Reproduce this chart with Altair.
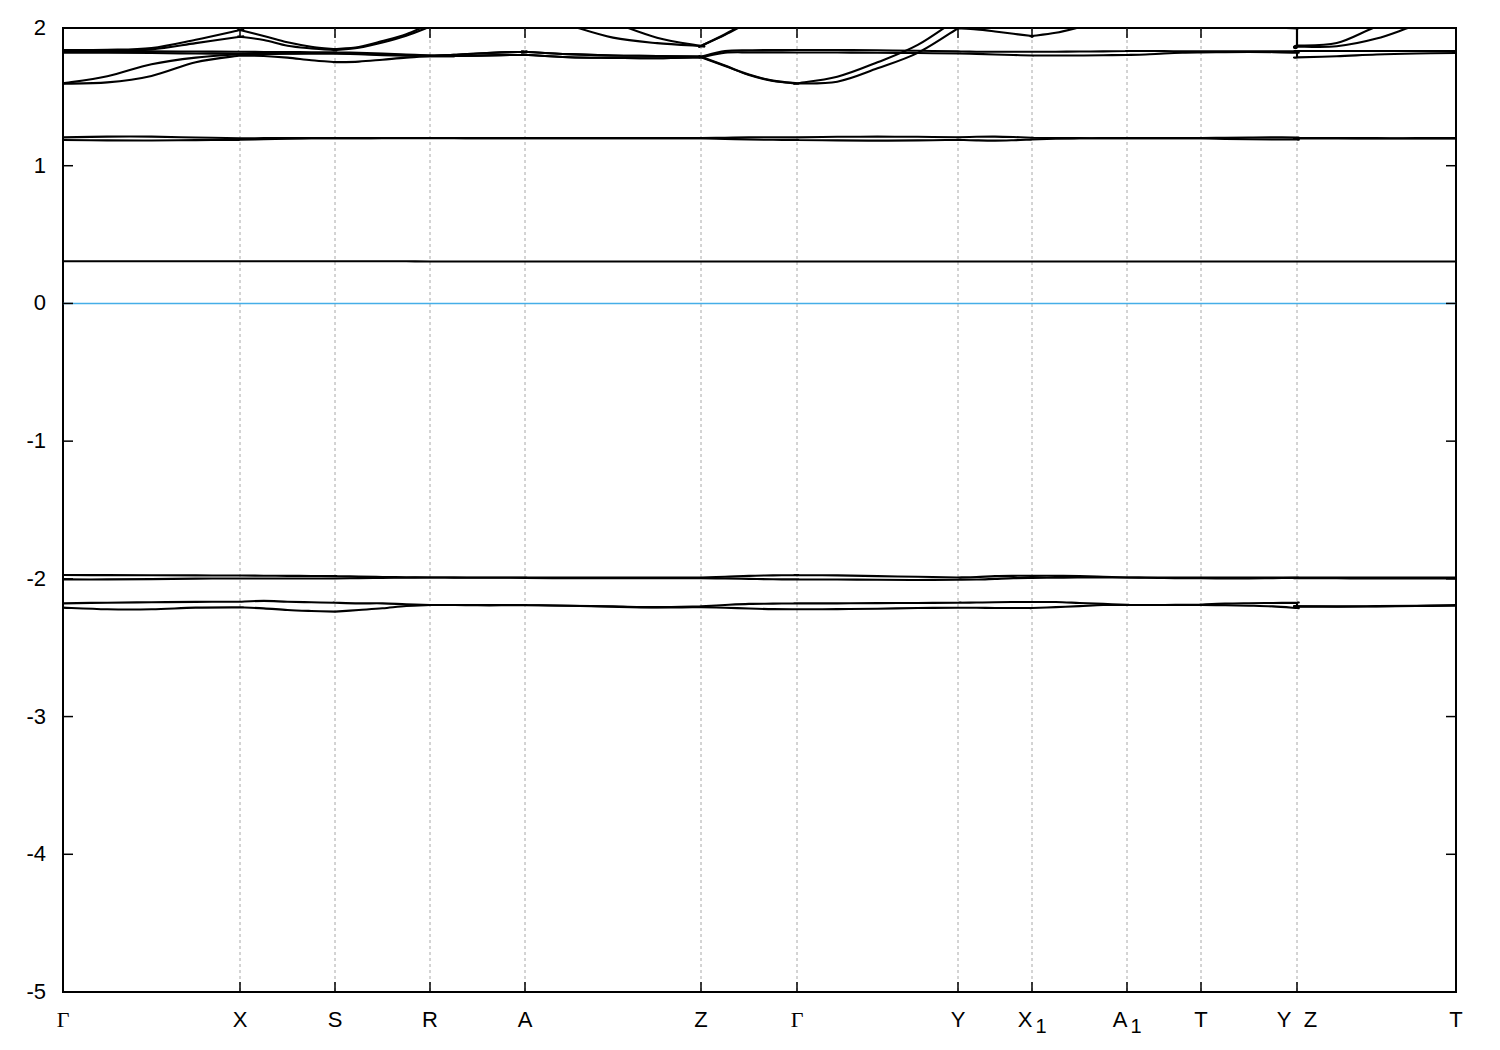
import altair as alt
import pandas as pd

# ---------------- k-path ----------------
node_k = [0.00, 1.77, 2.72, 3.67, 4.62, 6.38, 7.34, 8.95, 9.69, 10.64, 11.38, 12.34, 13.93]
node_main = ["Γ", "X", "S", "R", "A", "Z", "Γ", "Y", "X", "A", "T", "Y\u00a0\u00a0Z", "T"]
node_sub = ["", "", "", "", "", "", "", "", "1", "1", "", "", ""]
fractions = [0.0, 0.25, 0.5, 0.75, 1.0]
y_ticks = [-5, -4, -3, -2, -1, 0, 1, 2]
y_tick_labels = ["-5", "-4", "-3", "-2", "-1", "0", "1", "2"]

# segments: G-X, X-S, S-R, R-A, A-Z, Z-G, G-Y, Y-X1, X1-A1, A1-T, T-Y, Z-T ; 5 samples each
U1 = [[1.595, 1.605, 1.652, 1.751, 1.800], [1.800, 1.797, 1.785, 1.766, 1.752],
      [1.752, 1.756, 1.770, 1.785, 1.795], [1.795, 1.796, 1.799, 1.803, 1.806],
      [1.806, 1.788, 1.783, 1.780, 1.787], [1.787, 1.724, 1.659, 1.615, 1.597],
      [1.597, 1.610, 1.707, 1.819, 1.998], [1.998, 1.990, 1.975, 1.958, 1.942],
      [1.942, 1.965, 2.005, 2.050, 2.100], [2.100, 2.120, 2.130, 2.120, 2.100],
      [2.100, 2.070, 2.040, 2.005, 1.997], [1.865, 1.867, 1.923, 2.020, 2.100]]
U2 = [[1.598, 1.650, 1.737, 1.785, 1.810], [1.810, 1.813, 1.815, 1.815, 1.815],
      [1.815, 1.812, 1.808, 1.803, 1.800], [1.800, 1.805, 1.815, 1.823, 1.828],
      [1.828, 1.810, 1.800, 1.797, 1.792], [1.792, 1.727, 1.662, 1.618, 1.599],
      [1.599, 1.646, 1.751, 1.877, 2.070], [2.070, 2.100, 2.120, 2.130, 2.140],
      [2.140, 2.150, 2.160, 2.170, 2.180], [2.180, 2.180, 2.170, 2.160, 2.150],
      [2.150, 2.140, 2.130, 2.120, 2.100], [2.200, 2.200, 2.200, 2.200, 2.200]]
U3 = [[1.835, 1.835, 1.845, 1.890, 1.937], [1.937, 1.913, 1.871, 1.852, 1.840],
      [1.840, 1.857, 1.895, 1.944, 2.010], [2.010, 2.060, 2.100, 2.120, 2.120],
      [2.120, 2.020, 1.930, 1.890, 1.870], [1.870, 1.950, 2.040, 2.120, 2.150],
      [2.150, 2.150, 2.140, 2.120, 2.100], [2.100, 2.100, 2.110, 2.120, 2.120],
      [2.120, 2.130, 2.140, 2.150, 2.150], [2.150, 2.150, 2.140, 2.130, 2.120],
      [2.120, 2.110, 2.100, 2.100, 2.100], [1.872, 1.891, 2.010, 2.100, 2.150]]
U4 = [[1.840, 1.842, 1.855, 1.915, 1.985], [1.985, 1.942, 1.896, 1.864, 1.847],
      [1.847, 1.862, 1.905, 1.955, 2.030], [2.030, 2.100, 2.150, 2.180, 2.200],
      [2.200, 2.150, 2.040, 1.930, 1.870], [1.870, 1.955, 2.050, 2.120, 2.150],
      [2.150, 2.180, 2.200, 2.200, 2.200], [2.200, 2.200, 2.200, 2.200, 2.200],
      [2.200, 2.200, 2.200, 2.200, 2.200], [2.200, 2.200, 2.200, 2.200, 2.200],
      [2.200, 2.200, 2.200, 2.200, 2.200], [2.200, 2.200, 2.200, 2.200, 2.200]]
U5 = [[1.828, 1.830, 1.830, 1.829, 1.828], [1.828, 1.826, 1.825, 1.824, 1.823],
      [1.823, 1.820, 1.815, 1.808, 1.800], [1.800, 1.805, 1.815, 1.823, 1.828],
      [1.828, 1.810, 1.800, 1.797, 1.792], [1.792, 1.832, 1.838, 1.840, 1.840],
      [1.840, 1.840, 1.838, 1.835, 1.830], [1.830, 1.828, 1.828, 1.828, 1.828],
      [1.828, 1.828, 1.829, 1.830, 1.833], [1.833, 1.833, 1.832, 1.831, 1.830],
      [1.830, 1.830, 1.830, 1.831, 1.833], [1.833, 1.833, 1.833, 1.833, 1.833]]
U6 = [[1.820, 1.820, 1.818, 1.815, 1.812], [1.812, 1.812, 1.813, 1.815, 1.815],
      [1.815, 1.810, 1.803, 1.798, 1.795], [1.795, 1.796, 1.799, 1.803, 1.806],
      [1.806, 1.788, 1.783, 1.780, 1.787], [1.787, 1.820, 1.823, 1.823, 1.822],
      [1.822, 1.822, 1.820, 1.818, 1.815], [1.815, 1.812, 1.808, 1.804, 1.800],
      [1.800, 1.800, 1.800, 1.802, 1.804], [1.804, 1.808, 1.815, 1.820, 1.822],
      [1.822, 1.825, 1.826, 1.825, 1.820], [1.787, 1.795, 1.808, 1.815, 1.818]]
L1 = [[1.206, 1.211, 1.211, 1.205, 1.199], [1.199, 1.200, 1.200, 1.200, 1.200],
      [1.200, 1.200, 1.201, 1.201, 1.201], [1.201, 1.201, 1.200, 1.200, 1.200],
      [1.200, 1.200, 1.200, 1.200, 1.200], [1.200, 1.203, 1.206, 1.207, 1.206],
      [1.206, 1.210, 1.211, 1.210, 1.207], [1.207, 1.210, 1.211, 1.208, 1.203],
      [1.203, 1.201, 1.200, 1.200, 1.200], [1.200, 1.200, 1.200, 1.200, 1.200],
      [1.200, 1.203, 1.205, 1.206, 1.204], [1.201, 1.201, 1.200, 1.200, 1.200]]
L2 = [[1.187, 1.184, 1.183, 1.186, 1.188], [1.188, 1.193, 1.197, 1.199, 1.200],
      [1.200, 1.200, 1.200, 1.200, 1.200], [1.200, 1.200, 1.200, 1.200, 1.200],
      [1.200, 1.199, 1.199, 1.199, 1.199], [1.199, 1.195, 1.190, 1.188, 1.187],
      [1.187, 1.184, 1.182, 1.184, 1.188], [1.188, 1.184, 1.182, 1.185, 1.190],
      [1.190, 1.196, 1.199, 1.200, 1.200], [1.200, 1.200, 1.200, 1.199, 1.199],
      [1.199, 1.195, 1.192, 1.190, 1.190], [1.198, 1.198, 1.198, 1.198, 1.198]]
P1 = [[0.306, 0.306, 0.306, 0.306, 0.306], [0.306, 0.306, 0.306, 0.306, 0.306],
      [0.306, 0.306, 0.306, 0.306, 0.305], [0.305, 0.305, 0.305, 0.305, 0.305],
      [0.305, 0.305, 0.305, 0.305, 0.305], [0.305, 0.305, 0.305, 0.305, 0.305],
      [0.305, 0.305, 0.305, 0.305, 0.305], [0.305, 0.305, 0.305, 0.305, 0.305],
      [0.305, 0.305, 0.305, 0.305, 0.305], [0.305, 0.305, 0.305, 0.305, 0.305],
      [0.305, 0.305, 0.305, 0.305, 0.305], [0.305, 0.305, 0.305, 0.305, 0.305]]
D1 = [[-1.972, -1.973, -1.974, -1.975, -1.976], [-1.976, -1.977, -1.978, -1.979, -1.980],
      [-1.980, -1.983, -1.986, -1.988, -1.990], [-1.990, -1.990, -1.990, -1.990, -1.990],
      [-1.990, -1.990, -1.990, -1.990, -1.990], [-1.990, -1.985, -1.978, -1.975, -1.972],
      [-1.972, -1.975, -1.980, -1.985, -1.990], [-1.990, -1.987, -1.980, -1.978, -1.978],
      [-1.978, -1.978, -1.980, -1.985, -1.990], [-1.990, -1.990, -1.990, -1.990, -1.990],
      [-1.990, -1.990, -1.990, -1.990, -1.990], [-1.990, -1.990, -1.990, -1.990, -1.990]]
D2 = [[-2.004, -2.004, -2.002, -1.998, -1.997], [-1.997, -1.997, -1.997, -1.997, -1.997],
      [-1.997, -1.995, -1.993, -1.992, -1.990], [-1.990, -1.991, -1.992, -1.992, -1.993],
      [-1.993, -1.995, -1.995, -1.995, -1.995], [-1.995, -1.997, -2.000, -2.003, -2.004],
      [-2.004, -2.005, -2.006, -2.008, -2.006], [-2.006, -2.005, -2.000, -1.995, -1.993],
      [-1.993, -1.992, -1.990, -1.990, -1.990], [-1.990, -1.992, -1.994, -1.995, -1.995],
      [-1.995, -1.997, -1.997, -1.995, -1.993], [-1.995, -1.996, -1.997, -1.997, -1.997]]
D3 = [[-2.178, -2.173, -2.170, -2.167, -2.166], [-2.166, -2.160, -2.166, -2.170, -2.173],
      [-2.173, -2.178, -2.178, -2.185, -2.190], [-2.190, -2.190, -2.190, -2.190, -2.190],
      [-2.190, -2.195, -2.200, -2.205, -2.200], [-2.200, -2.190, -2.182, -2.180, -2.178],
      [-2.178, -2.178, -2.176, -2.175, -2.173], [-2.173, -2.172, -2.170, -2.168, -2.168],
      [-2.168, -2.168, -2.175, -2.182, -2.188], [-2.188, -2.190, -2.190, -2.188, -2.187],
      [-2.187, -2.180, -2.177, -2.175, -2.173], [-2.197, -2.200, -2.198, -2.195, -2.190]]
D4 = [[-2.209, -2.221, -2.221, -2.209, -2.207], [-2.207, -2.214, -2.226, -2.233, -2.238],
      [-2.238, -2.226, -2.214, -2.197, -2.190], [-2.190, -2.190, -2.192, -2.192, -2.190],
      [-2.190, -2.195, -2.203, -2.208, -2.205], [-2.205, -2.210, -2.215, -2.220, -2.221],
      [-2.221, -2.220, -2.217, -2.212, -2.210], [-2.210, -2.210, -2.212, -2.212, -2.212],
      [-2.212, -2.205, -2.198, -2.190, -2.190], [-2.190, -2.190, -2.190, -2.190, -2.190],
      [-2.190, -2.192, -2.195, -2.200, -2.212], [-2.200, -2.202, -2.200, -2.197, -2.195]]

bands = {"U1": U1, "U2": U2, "U3": U3, "U4": U4, "U5": U5, "U6": U6,
         "L1": L1, "L2": L2, "P1": P1, "D1": D1, "D2": D2, "D3": D3, "D4": D4}

W, H = 1393, 964
FONT = "Liberation Sans"
FS = 22

rows = []
for name, segs in bands.items():
    for s, vals in enumerate(segs):
        k0, k1 = node_k[s], node_k[s + 1]
        pts = [(k0 + f * (k1 - k0), e) for f, e in zip(fractions, vals)]
        # segment end points repeated so the smooth curve keeps the kinks at the nodes
        pts = [pts[0]] + pts + [pts[-1]]
        for j, (k, e) in enumerate(pts):
            rows.append({"band": name, "idx": s * 10 + j, "k": k, "E": e})
df = pd.DataFrame(rows)

nodes = pd.DataFrame({"k": node_k, "main": node_main, "sub": node_sub})
inner_nodes = nodes.iloc[1:-1]
yt = pd.DataFrame({"E": y_ticks, "lab": y_tick_labels})

xs = alt.Scale(domain=[node_k[0], node_k[-1]], nice=False, zero=False)
ys = alt.Scale(domain=[-5, 2], nice=False, zero=False)

grid = alt.Chart(inner_nodes).mark_rule(color="#a8a8a8", strokeWidth=1, strokeDash=[3, 3]).encode(
    x=alt.X("k:Q", scale=xs, axis=None))

fermi = alt.Chart(pd.DataFrame({"E": [0]})).mark_rule(color="#45aee8", strokeWidth=1.5).encode(
    y=alt.Y("E:Q", scale=ys, axis=None))

lines = alt.Chart(df).mark_line(color="black", strokeWidth=2.1, clip=True,
                                interpolate="cardinal", strokeJoin="round",
                                strokeCap="round").encode(
    x=alt.X("k:Q", scale=xs, axis=None),
    y=alt.Y("E:Q", scale=ys, axis=None),
    detail="band:N", order="idx:Q")

tick_l = alt.Chart(yt).mark_rule(color="black", strokeWidth=1.5).encode(
    y=alt.Y("E:Q", scale=ys, axis=None), x=alt.value(0), x2=alt.value(10))
tick_r = alt.Chart(yt).mark_rule(color="black", strokeWidth=1.5).encode(
    y=alt.Y("E:Q", scale=ys, axis=None), x=alt.value(W - 10), x2=alt.value(W))
tick_b = alt.Chart(nodes).mark_rule(color="black", strokeWidth=1.5).encode(
    x=alt.X("k:Q", scale=xs, axis=None), y=alt.value(H - 10), y2=alt.value(H))
tick_t = alt.Chart(nodes).mark_rule(color="black", strokeWidth=1.5).encode(
    x=alt.X("k:Q", scale=xs, axis=None), y=alt.value(0), y2=alt.value(10))

lab_y = alt.Chart(yt).mark_text(font=FONT, fontSize=FS, color="black", align="right",
                                baseline="middle").encode(
    y=alt.Y("E:Q", scale=ys, axis=None), x=alt.value(-17), text="lab:N")

lab_plain = alt.Chart(nodes).transform_filter("datum.main != 'Γ' && datum.sub == ''").mark_text(
    font=FONT, fontSize=FS, color="black", baseline="alphabetic", align="center").encode(
    x=alt.X("k:Q", scale=xs, axis=None), y=alt.value(H + 35), text="main:N")
lab_gamma = alt.Chart(nodes).transform_filter("datum.main == 'Γ'").mark_text(
    font="Liberation Serif", fontSize=FS, color="black", baseline="alphabetic", align="center").encode(
    x=alt.X("k:Q", scale=xs, axis=None), y=alt.value(H + 35), text="main:N")
lab_main_sub = alt.Chart(nodes).transform_filter("datum.sub != ''").mark_text(
    font=FONT, fontSize=FS, color="black", baseline="alphabetic", align="center", dx=-7).encode(
    x=alt.X("k:Q", scale=xs, axis=None), y=alt.value(H + 35), text="main:N")
lab_sub = alt.Chart(nodes).transform_filter("datum.sub != ''").mark_text(
    font=FONT, fontSize=FS - 2, color="black", baseline="alphabetic", align="center", dx=9, dy=6).encode(
    x=alt.X("k:Q", scale=xs, axis=None), y=alt.value(H + 35), text="sub:N")

chart = alt.layer(grid, fermi, lines, tick_l, tick_r, tick_b, tick_t, lab_y,
                  lab_plain, lab_gamma, lab_main_sub, lab_sub).properties(
    width=W, height=H,
    background="white",
    autosize=alt.AutoSizeParams(type="none"),
    padding={"left": 55, "top": 20, "right": 36, "bottom": 48},
).configure_view(stroke="black", strokeWidth=2)

chart.save("out.html", embed_options={"renderer": "svg", "actions": False})
